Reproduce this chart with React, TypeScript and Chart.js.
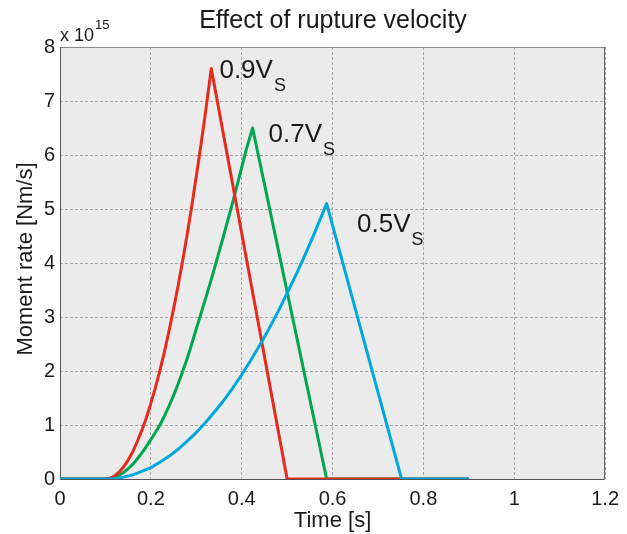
import React, { useEffect, useRef } from "react";
import { Chart, registerables } from "chart.js";

Chart.register(...registerables);

// Time samples (s) and moment-rate values (x 1e15 Nm/s)
const T_09 = [0, 0.1, 0.11, 0.12, 0.13, 0.14, 0.15, 0.16, 0.17, 0.18, 0.19, 0.2, 0.21, 0.22, 0.23, 0.24, 0.25, 0.26, 0.27, 0.28, 0.29, 0.3, 0.31, 0.32, 0.333, 0.5, 0.9];
const V_09 = [0, 0, 0.014, 0.056, 0.126, 0.224, 0.35, 0.5, 0.69, 0.9, 1.13, 1.4, 1.69, 2.01, 2.36, 2.74, 3.15, 3.58, 4.04, 4.53, 5.05, 5.6, 6.17, 6.77, 7.6, 0, 0];

const T_07 = [0, 0.1, 0.11, 0.12, 0.13, 0.14, 0.15, 0.16, 0.17, 0.18, 0.19, 0.2, 0.21, 0.22, 0.23, 0.24, 0.25, 0.26, 0.27, 0.28, 0.29, 0.3, 0.31, 0.32, 0.33, 0.34, 0.35, 0.36, 0.37, 0.38, 0.39, 0.4, 0.41, 0.424, 0.587, 0.9];
const V_07 = [0, 0, 0.008, 0.03, 0.07, 0.12, 0.19, 0.27, 0.37, 0.48, 0.6, 0.73, 0.86, 1.0, 1.17, 1.35, 1.55, 1.76, 1.99, 2.23, 2.5, 2.78, 3.05, 3.33, 3.61, 3.9, 4.2, 4.5, 4.81, 5.12, 5.44, 5.77, 6.1, 6.5, 0, 0];

const T_05 = [0, 0.1, 0.11, 0.12, 0.13, 0.14, 0.15, 0.16, 0.18, 0.2, 0.22, 0.24, 0.26, 0.28, 0.3, 0.32, 0.34, 0.36, 0.38, 0.4, 0.42, 0.44, 0.46, 0.48, 0.5, 0.52, 0.54, 0.56, 0.587, 0.752, 0.9];
const V_05 = [0, 0, 0.002, 0.009, 0.019, 0.035, 0.054, 0.078, 0.14, 0.21, 0.31, 0.42, 0.55, 0.7, 0.86, 1.04, 1.24, 1.45, 1.68, 1.93, 2.2, 2.48, 2.78, 3.1, 3.44, 3.79, 4.16, 4.55, 5.1, 0, 0];

const X_TICKS = [0, 0.2, 0.4, 0.6, 0.8, 1, 1.2];
const Y_TICKS = [0, 1, 2, 3, 4, 5, 6, 7, 8];

const SERIES_LABELS = [
  { main: "0.9V", sub: "S", x: 0.351, y: 7.42 },
  { main: "0.7V", sub: "S", x: 0.459, y: 6.235 },
  { main: "0.5V", sub: "S", x: 0.654, y: 4.58 },
];

const FONT = "'Liberation Sans', Arial, sans-serif";

const zip = (t: number[], v: number[]) => t.map((x, i) => ({ x, y: v[i] }));

const decorPlugin = {
  id: "decor",
  beforeDraw(chart: any) {
    const { ctx, chartArea } = chart;
    ctx.save();
    ctx.fillStyle = "#ffffff";
    ctx.fillRect(0, 0, chart.width, chart.height);
    ctx.fillStyle = "#ebebeb";
    ctx.fillRect(chartArea.left, chartArea.top, chartArea.right - chartArea.left, chartArea.bottom - chartArea.top);
    ctx.restore();
  },
  beforeDatasetsDraw(chart: any) {
    const { ctx, chartArea: a } = chart;
    ctx.save();
    ctx.lineWidth = 1;
    ctx.strokeStyle = "#8a8a8a";
    ctx.beginPath();
    ctx.moveTo(a.left, a.top + 0.5);
    ctx.lineTo(a.right, a.top + 0.5);
    ctx.stroke();
    ctx.strokeStyle = "#555555";
    ctx.beginPath();
    ctx.moveTo(a.left + 0.5, a.top);
    ctx.lineTo(a.left + 0.5, a.bottom + 0.5);
    ctx.lineTo(a.right - 0.5, a.bottom + 0.5);
    ctx.lineTo(a.right - 0.5, a.top);
    ctx.stroke();
    ctx.restore();
  },
  afterDraw(chart: any) {
    const { ctx, chartArea: a, scales } = chart;
    ctx.save();
    ctx.fillStyle = "#1a1a1a";
    ctx.textBaseline = "alphabetic";
    // title
    ctx.font = `25px ${FONT}`;
    ctx.textAlign = "center";
    ctx.fillText("Effect of rupture velocity", 333, 28);
    // x label
    ctx.font = `22px ${FONT}`;
    ctx.fillText("Time [s]", (a.left + a.right) / 2, 527);
    // y label
    ctx.save();
    ctx.translate(32, 259);
    ctx.rotate(-Math.PI / 2);
    ctx.fillText("Moment rate [Nm/s]", 0, 0);
    ctx.restore();
    // exponent
    ctx.textAlign = "left";
    ctx.font = `18px ${FONT}`;
    ctx.fillText("x 10", a.left, 41);
    const w = ctx.measureText("x 10").width;
    ctx.font = `13px ${FONT}`;
    ctx.fillText("15", a.left + w + 1, 29);
    // series labels
    for (const l of SERIES_LABELS) {
      const px = scales.x.getPixelForValue(l.x);
      const py = scales.y.getPixelForValue(l.y);
      ctx.font = `26px ${FONT}`;
      ctx.fillText(l.main, px, py);
      const mw = ctx.measureText(l.main).width;
      ctx.font = `18px ${FONT}`;
      ctx.fillText(l.sub, px + mw + 1, py + 13);
    }
    ctx.restore();
  },
};

export default function App() {
  const ref = useRef<HTMLCanvasElement>(null);
  useEffect(() => {
    if (!ref.current) return;
    const tickFont = { family: FONT, size: 20 };
    const common = { borderWidth: 3, pointRadius: 0, tension: 0, borderJoinStyle: "round" as const };
    const chart = new Chart(ref.current, {
      type: "line",
      data: {
        datasets: [
          { label: "0.5Vs", data: zip(T_05, V_05), borderColor: "#00a8dc", ...common },
          { label: "0.9Vs", data: zip(T_09, V_09), borderColor: "#e52b1c", ...common },
          { label: "0.7Vs", data: zip(T_07, V_07), borderColor: "#00a650", ...common },
        ],
      },
      options: {
        animation: false,
        responsive: false,
        layout: { padding: { top: 47, right: 18, bottom: 0, left: 0 } },
        plugins: { legend: { display: false }, tooltip: { enabled: false }, title: { display: false } },
        scales: {
          x: {
            type: "linear",
            min: 0,
            max: 1.2,
            afterBuildTicks: (s: any) => {
              s.ticks = X_TICKS.map((v) => ({ value: v }));
            },
            afterFit: (s: any) => {
              s.height = 55;
            },
            grid: { color: "#a6a6a6", lineWidth: 1, drawTicks: false },
            border: { display: false, dash: [3, 2] },
            ticks: {
              font: tickFont,
              color: "#1a1a1a",
              padding: 8,
              maxRotation: 0,
              autoSkip: false,
              callback: (v: any) => String(Number(Number(v).toFixed(1))),
            },
          },
          y: {
            type: "linear",
            min: 0,
            max: 8,
            afterBuildTicks: (s: any) => {
              s.ticks = Y_TICKS.map((v) => ({ value: v }));
            },
            afterFit: (s: any) => {
              s.width = 60;
            },
            grid: { color: "#a6a6a6", lineWidth: 1, drawTicks: false },
            border: { display: false, dash: [3, 2] },
            ticks: {
              font: tickFont,
              color: "#1a1a1a",
              padding: 5,
              autoSkip: false,
              callback: (v: any) => String(v),
            },
          },
        },
      },
      plugins: [decorPlugin],
    } as any);
    return () => chart.destroy();
  }, []);
  return (
    <div style={{ position: "fixed", left: 0, top: 0, width: 627, height: 534, background: "#fff" }}>
      <canvas ref={ref} width={627} height={534} style={{ width: 627, height: 534 }} />
    </div>
  );
}
